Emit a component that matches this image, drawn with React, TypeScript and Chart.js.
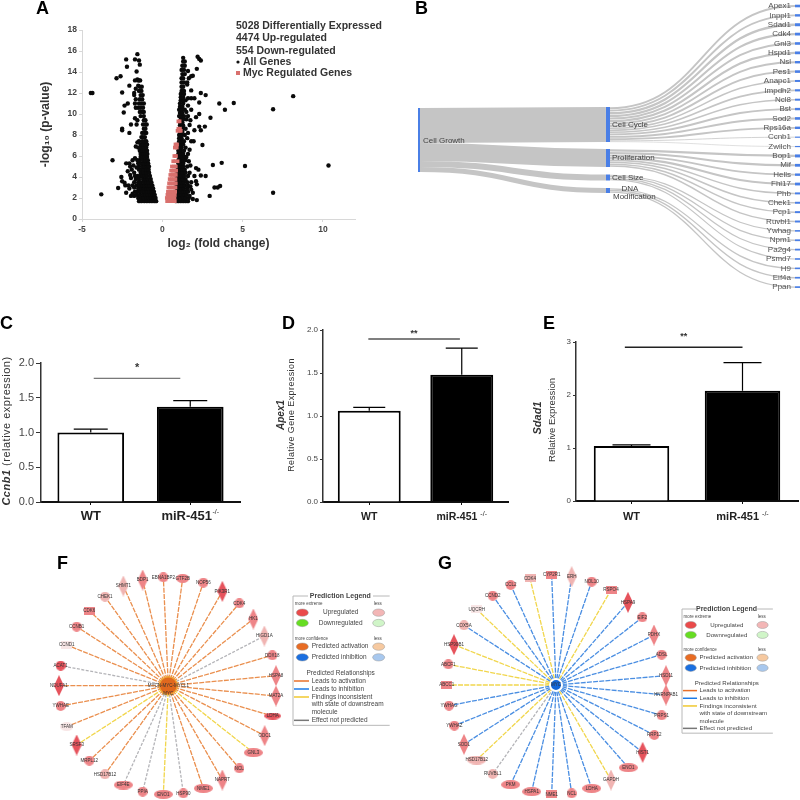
import React, { useEffect, useRef } from "react";
import { Chart, registerables } from "chart.js";

Chart.register(...registerables);

const SANS = '"Liberation Sans", Arial, sans-serif';

// ---------- Panel A data: [p-value row, fold changes read on that row] ----------
const downDense: [number, number[]][] = [
  [1.7, [-1.45, -1.3, -1.12, -0.96, -0.8, -0.65, -0.5, -0.38]],
  [2.0, [-1.5, -1.3, -1.15, -1.0, -0.85, -0.7, -0.55, -0.42]],
  [2.3, [-1.6, -1.4, -1.2, -1.05, -0.9, -0.75, -0.62, -0.47]],
  [2.6, [-1.55, -1.38, -1.25, -1.1, -0.95, -0.8, -0.66, -0.52]],
  [2.9, [-1.5, -1.3, -1.15, -1.0, -0.85, -0.7, -0.57]],
  [3.2, [-1.6, -1.4, -1.25, -1.1, -0.95, -0.8, -0.62]],
  [3.5, [-1.5, -1.35, -1.15, -1.0, -0.85, -0.68]],
  [3.8, [-1.45, -1.2, -1.05, -0.9, -0.72]],
  [4.1, [-1.55, -1.38, -1.25, -1.1, -0.95, -0.77]],
  [4.4, [-1.35, -1.15, -1.0, -0.82]],
  [4.7, [-1.45, -1.3, -1.15, -1.0, -0.85]],
  [5.0, [-1.45, -1.25, -1.1, -0.95, -0.83]],
  [5.3, [-1.5, -1.3, -1.15, -1.0, -0.88]],
  [5.6, [-1.4, -1.2, -1.05, -0.9]],
  [5.9, [-1.35, -1.25, -1.1, -0.95]],
  [6.2, [-1.35, -1.2, -1.05, -0.93]],
  [6.5, [-1.4, -1.25, -1.1, -0.95]],
  [6.8, [-1.5, -1.3, -1.15, -1.0]],
  [7.1, [-1.35, -1.2, -1.05, -0.95]],
  [7.4, [-1.45, -1.25, -1.1, -1.0]],
  [7.8, [-1.3, -1.2, -1.08]],
  [8.2, [-1.25, -1.1, -1.0]],
  [8.6, [-1.15, -1.05]],
  [9.0, [-1.2, -1.05, -0.97]],
  [9.4, [-1.15, -1.05]],
  [9.8, [-1.35, -1.15]],
  [10.2, [-1.4, -1.25, -1.15]],
  [10.6, [-1.5, -1.35, -1.2]],
  [11.0, [-1.45, -1.3, -1.15]],
  [11.4, [-1.4, -1.25]],
  [11.8, [-1.35, -1.22]],
  [12.2, [-1.45, -1.3]],
  [12.6, [-1.4, -1.28]],
  [13.2, [-1.5, -1.38]],
];
const downSparse: [number, number][] = [
  [-4.45, 12], [-4.35, 12], [-3.8, 2.35], [-3.1, 5.6], [-2.85, 13.4], [-2.6, 13.6], [-2.25, 15.2],
  [-2.2, 14.5], [-1.7, 15.2], [-1.55, 15.7], [-1.45, 15.1], [-1.4, 14.7], [-1.6, 14.05], [-2.5, 12.05],
  [-2.05, 12.7], [-1.75, 12], [-2.15, 11], [-2.35, 10.8], [-2.4, 10.15], [-1.95, 9], [-2.5, 8.6],
  [-2.5, 8.45], [-2.05, 8.2], [-1.55, 13.3], [-1.45, 13.2], [-1.7, 11], [-1.65, 10.6], [-2.25, 5.3],
  [-2.05, 5.3], [-1.85, 5.6], [-1.55, 5.6], [-2.15, 4.55], [-2.55, 4], [-2.5, 3.6], [-2.3, 3.2],
  [-2.75, 2.95], [-2.25, 2.5], [-1.95, 2.2], [-1.75, 2.2], [-1.85, 3.2], [-1.65, 3.8], [-1.75, 4.4],
  [-1.6, 4.9], [-1.95, 3.9], [-2.1, 3.2], [-1.55, 7.3], [-1.5, 12.7], [-2.0, 5.0], [-1.8, 5.1],
  [-1.7, 2.6], [-1.85, 2.4], [-2.05, 2.9], [-1.75, 3.0], [-1.9, 4.7], [-1.7, 4.1], [-1.75, 3.5],
  [-2.0, 4.2], [-2.35, 3.45], [-1.7, 5.8], [-1.65, 6.9], [-1.7, 9.6], [-1.6, 9.0], [-1.55, 9.4],
  [-1.75, 11.8], [-1.65, 11.4], [-1.65, 12.4], [-1.7, 13.2],
];
const upDense: [number, number[]][] = [
  [1.7, [0.85, 1.0, 1.15, 1.3, 1.45, 1.6]],
  [2.0, [0.85, 1.0, 1.15, 1.3, 1.45, 1.65]],
  [2.3, [0.9, 1.05, 1.2, 1.35, 1.5]],
  [2.6, [0.85, 1.0, 1.15, 1.3, 1.45, 1.6]],
  [2.9, [0.9, 1.05, 1.2, 1.35, 1.55]],
  [3.2, [0.9, 1.05, 1.2, 1.4, 1.6]],
  [3.5, [0.9, 1.05, 1.2, 1.35, 1.55]],
  [3.8, [0.95, 1.1, 1.25, 1.45]],
  [4.1, [0.9, 1.05, 1.2, 1.35, 1.6]],
  [4.4, [0.95, 1.1, 1.25, 1.45]],
  [4.7, [0.95, 1.1, 1.25, 1.4]],
  [5.0, [1.0, 1.15, 1.3, 1.55]],
  [5.3, [1.0, 1.15, 1.3]],
  [5.6, [1.0, 1.15, 1.3, 1.45]],
  [5.9, [1.05, 1.2, 1.4]],
  [6.2, [1.0, 1.15, 1.3]],
  [6.5, [1.0, 1.15, 1.35]],
  [6.8, [1.05, 1.2, 1.45]],
  [7.1, [1.0, 1.15, 1.3]],
  [7.4, [1.05, 1.2, 1.35]],
  [7.7, [1.05, 1.2]],
  [8.0, [1.05, 1.2, 1.4]],
  [8.3, [1.1, 1.25]],
  [8.6, [1.1, 1.25, 1.45]],
  [8.9, [1.1, 1.3]],
  [9.2, [1.1, 1.25]],
  [9.5, [1.15, 1.3, 1.5]],
  [9.8, [1.05, 1.2, 1.35]],
  [10.1, [1.1, 1.25]],
  [10.4, [1.05, 1.2, 1.4]],
  [10.7, [1.1, 1.25]],
  [11.0, [1.1, 1.3]],
  [11.3, [1.15, 1.3, 1.45]],
  [11.6, [1.15, 1.3]],
  [11.9, [1.15, 1.35]],
  [12.2, [1.2, 1.35]],
  [12.6, [1.2, 1.3]],
  [13.0, [1.2, 1.35]],
  [13.4, [1.2, 1.3]],
  [13.8, [1.25, 1.4]],
  [14.2, [1.2, 1.35]],
  [14.6, [1.25, 1.4]],
  [15.0, [1.3, 1.4]],
  [15.35, [1.3]],
];
const upSparse: [number, number][] = [
  [3.55, 11], [3.9, 10.4], [4.45, 11.05], [8.15, 11.7], [6.9, 10.45], [5.15, 5.05], [10.35, 5.1],
  [6.9, 2.5], [3.15, 5.15], [3.7, 5.35], [3.25, 3], [3.45, 3], [3.6, 3.15], [2.95, 2.2], [3.0, 9.65],
  [2.4, 12], [2.7, 11.8], [2.3, 11.1], [2.3, 10], [2.1, 9.7], [2.2, 15.45], [2.3, 15.25], [2.4, 15.1],
  [2.15, 14.3], [1.8, 13.6], [1.65, 13.4], [1.9, 13.65], [1.8, 12.25], [1.8, 11.5], [1.6, 11.5],
  [2.0, 11.5], [1.8, 10.4], [1.5, 10.2], [2.3, 8.8], [2.4, 8.45], [2.65, 8.8], [1.7, 8.95], [2.0, 8.45],
  [2.5, 7.05], [1.8, 7.4], [1.95, 7.4], [1.7, 6.6], [2.1, 4.85], [2.25, 4.7], [2.0, 4.1], [2.4, 4.15],
  [2.7, 4.1], [2.1, 3.6], [2.15, 3.3], [2.15, 1.8], [1.7, 2.2], [1.9, 2.5], [1.8, 2.8], [1.5, 5.9],
  [1.75, 9.4], [1.6, 6.2], [1.75, 5.1], [1.9, 1.9], [1.6, 8.2], [1.55, 7.7], [1.65, 5.5], [1.7, 4.4],
  [1.8, 3.5], [1.75, 3.1], [1.6, 9.8], [1.6, 10.8], [1.55, 12.8], [1.6, 14.1], [1.55, 13.0],
];
const mycRows: [number, number[]][] = [
  [1.7, [0.3, 0.42, 0.54, 0.66, 0.78]],
  [2.0, [0.28, 0.4, 0.52, 0.64, 0.76]],
  [2.3, [0.32, 0.44, 0.56, 0.68, 0.78]],
  [2.6, [0.35, 0.47, 0.59, 0.71, 0.8]],
  [3.0, [0.38, 0.5, 0.62, 0.74, 0.82]],
  [3.4, [0.42, 0.54, 0.66, 0.78, 0.84]],
  [3.8, [0.46, 0.58, 0.7, 0.82]],
  [4.2, [0.5, 0.62, 0.74, 0.84]],
  [4.6, [0.55, 0.67, 0.79, 0.86]],
  [5.0, [0.6, 0.72, 0.84]],
  [5.5, [0.68, 0.8, 0.95]],
  [6.0, [0.75, 0.85]],
  [6.8, [0.78, 0.9]],
  [7.1, [0.82, 0.92]],
  [8.4, [0.95, 1.08, 1.15]],
  [8.6, [1.0, 1.1]],
  [9.3, [1.0, 1.08]],
];
const expandRows = (rows: [number, number[]][]) => rows.flatMap(([y, xs]) => xs.map((x) => ({ x, y })));
const expandPairs = (pairs: [number, number][]) => pairs.map(([x, y]) => ({ x, y }));

// ---------- Panel B data ----------
const midNames = ["Cell Cycle", "Proliferation", "Cell Size", "DNA Modification"];
const midValues = [35, 18, 6, 5];
const midTops = [107, 149, 174.5, 188];
const growthTop = 108;
const geneNames = ["Apex1", "Inppl1", "Sdad1", "Cdk4", "Gnl3", "Hspd1", "Nsl", "Pes1", "Anapc1", "Impdh2", "Ncl8", "Bst", "Sod2", "Rps16a", "Ccnb1", "Zwilch", "Bop1", "Mif", "Hells", "Fhl17", "Phb", "Chek1", "Pcp1", "Ruvbl1", "Ywhag", "Npm1", "Pa2g4", "Psmd7", "H9", "Eif4a", "Ppan"];
const geneGroup = [0, 0, 0, 0, 0, 0, 0, 0, 0, 0, 0, 0, 0, 0, 0, 0, 1, 1, 1, 1, 1, 1, 1, 1, 2, 2, 2, 2, 3, 3, 3];
const geneValues = [2.6, 2.4, 3, 2.8, 2.6, 2.8, 2.4, 2.6, 2, 2.2, 2, 2.4, 2.6, 2.4, 1, 0.7, 3, 2.8, 2.4, 2.8, 2, 2, 2, 2, 1.6, 1.8, 1.8, 1.6, 1.6, 1.7, 1.7];

// ---------- Panels C, D, E data ----------
const barCategories = ["WT", "miR-451"];
const ccnb1Values = [1.0, 1.37];
const ccnb1Tops = [1.05, 1.46];
const apex1Values = [1.06, 1.48];
const apex1Tops = [1.1, 1.79];
const sdad1Values = [1.04, 2.08];
const sdad1Tops = [1.06, 2.61];

// ---------- Panels F, G data: layout positions, shape, shade and prediction kind ----------
type Net = [string, number, number, string, string, string];
const fNodes: Net[] = [
  ["BDP1", 338, 90, "d", "m", "a"], ["EBNA1BP2", 400, 82, "c", "m", "a"], ["GTF2B", 458, 85, "e", "m", "a"],
  ["NOP56", 520, 98, "c", "m", "a"], ["PIK3R1", 577, 124, "d", "h", "a"], ["CDK4", 628, 160, "c", "m", "a"],
  ["HK1", 670, 207, "d", "m", "a"], ["HIGD1A", 703, 258, "d", "p", "n"], ["DDX18", 727, 316, "c", "m", "a"],
  ["HSPA8", 738, 377, "d", "m", "a"], ["MAT2A", 738, 438, "d", "m", "a"], ["LDHA", 728, 498, "f", "h", "a"],
  ["ODC1", 704, 557, "d", "m", "a"], ["GNL3", 670, 608, "w", "m", "y"], ["NCL", 628, 655, "c", "m", "a"],
  ["NAPRT", 577, 690, "d", "m", "a"], ["NME1", 520, 715, "w", "m", "a"], ["HSP90", 460, 730, "c", "m", "n"],
  ["ENO1", 400, 733, "w", "m", "y"], ["PPIA", 338, 725, "c", "m", "n"], ["EIF4E", 280, 705, "w", "m", "n"],
  ["HSD17B12", 225, 673, "c", "p", "a"], ["MRPL12", 178, 632, "c", "m", "a"], ["SRSF3", 140, 585, "d", "h", "y"],
  ["TFAM", 110, 530, "e", "w", "a"], ["YWHAE", 92, 468, "c", "m", "a"], ["NDUFA1", 87, 407, "d", "h", "a"],
  ["ACAT1", 92, 347, "c", "h", "n"], ["CCND1", 110, 285, "r", "w", "a"], ["CCNB1", 140, 230, "c", "m", "a"],
  ["CDK6", 178, 182, "r", "m", "a"], ["CHEK1", 225, 140, "c", "p", "a"], ["SHMT1", 280, 108, "d", "p", "a"],
];
const gNodes: Net[] = [
  ["CYP2R1", 395, 75, "r", "m", "b"], ["ERH", 455, 80, "d", "p", "b"], ["NOL10", 515, 95, "c", "m", "b"],
  ["RSPO4", 573, 120, "r", "m", "y"], ["HSPA9", 624, 157, "d", "h", "b"], ["EIF2", 667, 202, "c", "m", "b"],
  ["PDHX", 702, 255, "d", "m", "b"], ["ADSL", 725, 314, "c", "m", "b"], ["HSD11", 738, 377, "d", "m", "b"],
  ["HNRNPAB1", 738, 435, "d", "m", "b"], ["PRPS1", 725, 496, "c", "m", "b"], ["RRP12", 703, 555, "c", "m", "b"],
  ["HIST1", 668, 607, "d", "h", "b"], ["ENO1", 625, 653, "w", "m", "b"], ["GAPDH", 573, 690, "d", "p", "y"],
  ["LDHA", 515, 715, "w", "m", "b"], ["NCL", 455, 730, "c", "m", "b"], ["NME1", 395, 733, "r", "m", "b"],
  ["HSPA1", 335, 725, "w", "m", "b"], ["PKM", 272, 704, "w", "m", "b"], ["RUVBL1", 218, 672, "c", "p", "n"],
  ["HSD17B12", 170, 630, "w", "p", "y"], ["SOD1", 132, 583, "d", "m", "b"], ["YWHAZ", 103, 527, "c", "m", "b"],
  ["YWHAG", 87, 467, "c", "m", "b"], ["ABCC1", 80, 405, "r", "m", "y"], ["ABCF1", 85, 343, "c", "m", "y"],
  ["HSP90B1", 102, 284, "d", "h", "y"], ["COX5A", 132, 226, "c", "p", "b"], ["UQCRH", 170, 178, "r", "w", "y"],
  ["CCND2", 218, 137, "c", "m", "b"], ["CCL2", 272, 105, "c", "m", "b"], ["CDK4", 330, 85, "r", "p", "y"],
];
const fHub = { x: 415, y: 407 };
const gHub = { x: 408, y: 405 };

const shades: Record<string, string> = { h: "#e6535c", m: "#ee8487", p: "#f0b4b2", w: "#f8e6e6" };
const linkColors: Record<string, string> = { a: "#ea8f4e", b: "#4a8ee2", y: "#f1d64c", n: "#b4b4b8" };

// ---------- helpers ----------
type Part = { t: string; font: string };
type Txt = { x: number; y: number; parts: Part[]; color?: string; rot?: boolean; align?: CanvasTextAlign; spacing?: string };
const txt = (x: number, y: number, t: string, font: string, o: Partial<Txt> = {}): Txt => ({ x, y, parts: [{ t, font }], ...o });

function drawTxt(ctx: CanvasRenderingContext2D, it: Txt, ox: number, oy: number) {
  ctx.save();
  ctx.translate(it.x - ox, it.y - oy);
  if (it.rot) ctx.rotate(-Math.PI / 2);
  ctx.fillStyle = it.color || "#333";
  ctx.textBaseline = "middle";
  ctx.textAlign = "left";
  (ctx as any).letterSpacing = it.spacing || "0px";
  let total = 0;
  for (const p of it.parts) { ctx.font = p.font; total += ctx.measureText(p.t).width; }
  const al = it.align || "center";
  let cx = al === "center" ? -total / 2 : al === "right" || al === "end" ? -total : 0;
  for (const p of it.parts) { ctx.font = p.font; ctx.fillText(p.t, cx, 0); cx += ctx.measureText(p.t).width; }
  ctx.restore();
}
const textPlugin = (items: Txt[], ox: number, oy: number) => ({
  id: "pageTexts",
  afterDraw(c: any) { items.forEach((i) => drawTxt(c.ctx, i, ox, oy)); },
});

function frame(w: number, h: number, a: { l: number; r: number; t: number; b: number }, pl = 0, pb = 0) {
  return {
    layout: { autoPadding: false, padding: { left: pl, top: a.t, right: w - a.r, bottom: pb } },
    yFit: (s: any) => { s.width = a.l - pl; },
    xFit: (s: any) => { s.height = h - a.b - pb; },
  };
}
const baseOpts = { responsive: false, animation: false as const, events: [] as string[] };
const noPlugins = { legend: { display: false }, tooltip: { enabled: false }, title: { display: false } };

// ---------- Panel A ----------
function volcanoConfig(ox: number, oy: number, w: number, h: number) {
  const f = frame(w, h, { l: 82, r: 355, t: 30, b: 219 }, 38, 19);
  const B = `bold 10.5px ${SANS}`;
  const items = [
    txt(236, 26, "5028 Differentially Expressed", B, { align: "left" }),
    txt(236, 38.5, "4474 Up-regulated", B, { align: "left" }),
    txt(236, 51, "554 Down-regulated", B, { align: "left" }),
    txt(243, 62, "All Genes", B, { align: "left" }),
    txt(243, 73, "Myc Regulated Genes", B, { align: "left" }),
  ];
  const keys = {
    id: "keys",
    afterDraw(c: any) {
      const g = c.ctx;
      g.fillStyle = "#111"; g.beginPath(); g.arc(238, 62, 1.6, 0, 7); g.fill();
      g.fillStyle = "#d9706d"; g.fillRect(236, 71, 4, 4);
    },
  };
  return {
    type: "scatter",
    data: {
      datasets: [
        { label: "Myc Regulated Genes", data: expandRows(mycRows), backgroundColor: "#d9706d", pointStyle: "rect", pointRadius: 2.6, borderWidth: 0 },
        { label: "All Genes", data: [...expandRows(downDense), ...expandPairs(downSparse), ...expandRows(upDense), ...expandPairs(upSparse)], backgroundColor: "#0a0a0a", pointRadius: 2.2, borderWidth: 0 },
      ],
    },
    options: {
      ...baseOpts,
      layout: f.layout,
      plugins: noPlugins,
      scales: {
        x: {
          type: "linear", min: -5, max: 12, afterFit: f.xFit,
          border: { color: "#d8d8d8" }, grid: { drawOnChartArea: false, tickLength: 3, color: "#d8d8d8" },
          ticks: { stepSize: 5, includeBounds: false, color: "#444", font: { family: SANS, size: 8.5, weight: "bold" }, maxRotation: 0, padding: 3 },
          title: { display: true, text: "log₂ (fold change)", color: "#333", font: { family: SANS, size: 12, weight: "bold" }, padding: 0 },
        },
        y: {
          min: 0, max: 18, afterFit: f.yFit,
          border: { color: "#d8d8d8" }, grid: { drawOnChartArea: false, tickLength: 3, color: "#d8d8d8" },
          ticks: { stepSize: 2, color: "#444", font: { family: SANS, size: 8.5, weight: "bold" }, padding: 2 },
          title: { display: true, text: "-log₁₀ (p-value)", color: "#333", font: { family: SANS, size: 12, weight: "bold" }, padding: 0 },
        },
      },
    },
    plugins: [textPlugin(items, ox, oy), keys],
  };
}

// ---------- Panel B ----------
function sankeyConfig(ox: number, oy: number) {
  const plugin = {
    id: "sankey",
    beforeDatasetsDraw(c: any) {
      const g = c.ctx as CanvasRenderingContext2D;
      const X = c.scales.x, Y = c.scales.y;
      const link = (x0: number, y0: number, x1: number, y1: number, w: number) => {
        const a = X.getPixelForValue(x0), b = X.getPixelForValue(x1), m = (a + b) / 2;
        g.beginPath();
        g.moveTo(a, Y.getPixelForValue(y0));
        g.bezierCurveTo(m, Y.getPixelForValue(y0), m, Y.getPixelForValue(y1), b, Y.getPixelForValue(y1));
        g.lineWidth = w;
        g.stroke();
      };
      g.save();
      g.strokeStyle = "#c5c5c5";
      let top = growthTop;
      midValues.forEach((v, i) => {
        link(20, top + v / 2, 206, midTops[i] + v / 2, v);
        top += v;
      });
      midValues.forEach((v, i) => {
        const idx = geneValues.map((_, k) => k).filter((k) => geneGroup[k] === i);
        const sum = idx.reduce((s, k) => s + geneValues[k], 0);
        let off = midTops[i];
        idx.forEach((k) => {
          const w = (geneValues[k] * v) / sum;
          link(210, off + w / 2, 395, 6 + k * 9.37, w * 0.8);
          off += w;
        });
      });
      g.fillStyle = "#4a7fe6";
      const rect = (x0: number, y0: number, x1: number, y1: number) => {
        const a = X.getPixelForValue(x0), t = Y.getPixelForValue(y0);
        g.fillRect(a, t, X.getPixelForValue(x1) - a, Y.getPixelForValue(y1) - t);
      };
      rect(18, growthTop, 20, growthTop + midValues.reduce((s, v) => s + v, 0));
      midValues.forEach((v, i) => rect(206, midTops[i], 210, midTops[i] + v));
      geneValues.forEach((v, k) => rect(395, 6 + k * 9.37 - Math.max(v, 1.2) / 2, 400, 6 + k * 9.37 + Math.max(v, 1.2) / 2));
      g.restore();
    },
    afterDraw(c: any) {
      const g = c.ctx;
      const F = `8px ${SANS}`;
      geneNames.forEach((n, k) => drawTxt(g, txt(791, 6 + k * 9.37, n, F, { align: "right", color: "#555" }), ox, oy));
      drawTxt(g, txt(423, 141, "Cell Growth", F, { align: "left", color: "#444" }), ox, oy);
      drawTxt(g, txt(612, 125, midNames[0], F, { align: "left", color: "#444" }), ox, oy);
      drawTxt(g, txt(612, 158, midNames[1], F, { align: "left", color: "#444" }), ox, oy);
      drawTxt(g, txt(612, 178, midNames[2], F, { align: "left", color: "#444" }), ox, oy);
      drawTxt(g, txt(630, 189, "DNA", F, { color: "#444" }), ox, oy);
      drawTxt(g, txt(613, 197, "Modification", F, { align: "left", color: "#444" }), ox, oy);
    },
  };
  return {
    type: "scatter",
    data: { datasets: [{ data: [], pointRadius: 0 }] },
    options: {
      ...baseOpts,
      layout: { autoPadding: false, padding: 0 },
      plugins: noPlugins,
      scales: {
        x: { type: "linear", min: 0, max: 400, display: false },
        y: { type: "linear", min: 0, max: 300, reverse: true, display: false },
      },
    },
    plugins: [plugin],
  };
}

// ---------- Panels C, D, E ----------
type BarSpec = {
  ox: number; oy: number; w: number; h: number;
  area: { l: number; r: number; t: number; b: number };
  values: number[]; tops: number[]; max: number; step: number; decimals: number;
  tickFont: number; tickLen: number; capHalf: number; errWidth: number;
  sig: { from: number; to: number; value: number; width: number; color: string; label: string; labelY: number; labelFont: number };
  catY: number; catFont: number; supFont: number; supGap: number;
  texts: Txt[]; barPct: number;
};
function barConfig(s: BarSpec) {
  const f = frame(s.w, s.h, s.area);
  const marks = {
    id: "marks",
    afterDraw(c: any) {
      const g = c.ctx as CanvasRenderingContext2D;
      const X = c.scales.x, Y = c.scales.y;
      g.save();
      g.strokeStyle = "#000";
      g.lineWidth = s.errWidth;
      s.tops.forEach((t, i) => {
        const x = X.getPixelForValue(i), a = Y.getPixelForValue(s.values[i]), b = Y.getPixelForValue(t);
        g.beginPath();
        g.moveTo(x, a); g.lineTo(x, b);
        g.moveTo(x - s.capHalf, b); g.lineTo(x + s.capHalf, b);
        g.stroke();
      });
      g.strokeStyle = s.sig.color;
      g.lineWidth = s.sig.width;
      const yy = Y.getPixelForValue(s.sig.value);
      const a = X.getPixelForValue(s.sig.from), b = X.getPixelForValue(s.sig.to);
      g.beginPath(); g.moveTo(a, yy); g.lineTo(b, yy); g.stroke();
      g.restore();
      drawTxt(g, txt(s.ox + (a + b) / 2, s.sig.labelY, s.sig.label, `bold ${s.sig.labelFont}px ${SANS}`, { color: "#333" }), s.ox, s.oy);
      const B = `bold ${s.catFont}px ${SANS}`, S = `${s.supFont}px ${SANS}`;
      drawTxt(g, txt(s.ox + X.getPixelForValue(0), s.catY, barCategories[0], B, { color: "#222" }), s.ox, s.oy);
      g.font = B;
      const w1 = g.measureText(barCategories[1]).width;
      g.font = S;
      const w2 = g.measureText("-/-").width;
      const left = X.getPixelForValue(1) - (w1 + s.supGap + w2) / 2;
      drawTxt(g, txt(s.ox + left, s.catY, barCategories[1], B, { align: "left", color: "#222" }), s.ox, s.oy);
      drawTxt(g, txt(s.ox + left + w1 + s.supGap, s.catY - s.catFont * 0.3, "-/-", S, { align: "left", color: "#222" }), s.ox, s.oy);
    },
  };
  return {
    type: "bar",
    data: {
      labels: barCategories,
      datasets: [{ data: s.values, backgroundColor: ["#ffffff", "#000000"], borderColor: "#000", borderWidth: 2, barPercentage: s.barPct, categoryPercentage: 1 }],
    },
    options: {
      ...baseOpts,
      layout: f.layout,
      plugins: noPlugins,
      scales: {
        x: {
          afterFit: f.xFit,
          border: { color: "#111", width: 2 },
          grid: { offset: false, drawOnChartArea: false, tickLength: 3, color: "#111", lineWidth: 1 },
          ticks: { display: false },
        },
        y: {
          min: 0, max: s.max, afterFit: f.yFit,
          border: { color: "#333", width: 1.5 },
          grid: { drawOnChartArea: false, tickLength: s.tickLen, color: "#333", lineWidth: 1 },
          ticks: { stepSize: s.step, color: "#444", font: { family: SANS, size: s.tickFont }, padding: 2, callback: (v: number) => Number(v).toFixed(s.decimals) },
        },
      },
    },
    plugins: [marks, textPlugin(s.texts, s.ox, s.oy)],
  };
}

// ---------- Panels F, G ----------
function shapeCanvas(kind: string, fill: string) {
  const dims: Record<string, [number, number]> = { c: [10, 10], e: [13, 9], w: [19, 9], f: [17, 7], d: [10, 21], r: [11, 8] };
  const [w, h] = dims[kind];
  const cv = document.createElement("canvas");
  cv.width = w; cv.height = h;
  const g = cv.getContext("2d")!;
  g.fillStyle = fill;
  g.beginPath();
  if (kind === "d") {
    g.moveTo(w / 2, 0); g.lineTo(w, h / 2); g.lineTo(w / 2, h); g.lineTo(0, h / 2); g.closePath();
  } else if (kind === "r") {
    g.rect(0, 0, w, h);
  } else {
    g.ellipse(w / 2, h / 2, w / 2, h / 2, 0, 0, 7);
  }
  g.fill();
  return cv;
}

function drawLegend(g: CanvasRenderingContext2D, x: number, y: number, sx: number, sy: number) {
  const F = `${(6.5 * sx).toFixed(2)}px ${SANS}`, S = `4.5px ${SANS}`;
  const px = (v: number) => x + (v * sx) / 3;
  const py = (v: number) => y + (v * sy) / 3;
  const W = 290, H = 388;
  g.save();
  g.strokeStyle = "#b8b8b8";
  g.lineWidth = 1;
  g.beginPath();
  g.moveTo(px(45), py(0)); g.lineTo(px(0), py(0)); g.lineTo(px(0), py(H)); g.lineTo(px(W), py(H));
  g.moveTo(px(240), py(0)); g.lineTo(px(W), py(0));
  g.stroke();
  const oval = (vx: number, vy: number, c: string) => {
    g.fillStyle = c; g.strokeStyle = "#999"; g.lineWidth = 0.5;
    g.beginPath(); g.ellipse(px(vx), py(vy), (18 * sx) / 3, (11 * sy) / 3, 0, 0, 7); g.fill(); g.stroke();
  };
  oval(28, 50, "#ea4a4a"); oval(257, 50, "#f3b6b6");
  oval(28, 81, "#66dd22"); oval(257, 81, "#d0f5c8");
  oval(28, 152, "#e86c24"); oval(257, 152, "#f6c9a0");
  oval(28, 184, "#1a6fe0"); oval(257, 184, "#a8c8ee");
  const bar = (vy: number, c: string) => {
    g.strokeStyle = c; g.lineWidth = 1.5;
    g.beginPath(); g.moveTo(px(3), py(vy)); g.lineTo(px(48), py(vy)); g.stroke();
  };
  bar(255, "#e8702a"); bar(279, "#1a7ae8"); bar(303, "#f0c830"); bar(373, "#777");
  g.restore();
  const t = (vx: number, vy: number, s: string, font = F, align: CanvasTextAlign = "left") =>
    drawTxt(g, txt(px(vx), py(vy), s, font, { align, color: "#444" }), 0, 0);
  t(142, 0, "Prediction Legend", `bold 7px ${SANS}`, "center");
  t(5, 23, "more extreme", S); t(242, 23, "less", S);
  t(143, 50, "Upregulated", F, "center"); t(143, 82, "Downregulated", F, "center");
  t(5, 127, "more confidence", S); t(242, 127, "less", S);
  t(56, 152, "Predicted activation"); t(56, 184, "Predicted inhibition");
  t(143, 231, "Predicted Relationships", F, "center");
  t(56, 255, "Leads to activation"); t(56, 279, "Leads to inhibition");
  t(56, 303, "Findings inconsistent"); t(56, 326, "with state of downstream"); t(56, 350, "molecule");
  t(56, 373, "Effect not predicted");
}

function networkConfig(nodes: Net[], hub: { x: number; y: number }, w: number, h: number, hubKind: string, hubLabels: string[], legendAt: [number, number, number, number]) {
  const spokes = nodes.map((n) => ({
    type: "line",
    data: [{ x: hub.x, y: hub.y }, { x: n[1], y: n[2] }],
    borderColor: linkColors[n[5]],
    borderWidth: 1.3,
    borderDash: n[5] === "n" ? [3, 1.5] : [5, 1.2],
    pointRadius: 0,
    showLine: true,
    order: 5,
  }));
  const isF = hubKind === "a";
  const plugin = {
    id: "netLabels",
    afterDatasetsDraw(c: any) {
      const g = c.ctx;
      const X = c.scales.x, Y = c.scales.y;
      const f = `4.5px ${SANS}`;
      g.save();
      g.font = f; g.fillStyle = "#333"; g.textAlign = "center"; g.textBaseline = "middle";
      nodes.forEach((n) => {
        g.fillText(n[0], X.getPixelForValue(n[1]), Y.getPixelForValue(n[2]));
      });
      g.fillText(hubLabels[0], X.getPixelForValue(hub.x), Y.getPixelForValue(hub.y));
      if (hubLabels[1]) g.fillText(hubLabels[1], X.getPixelForValue(hub.x), Y.getPixelForValue(hub.y + 23));
      g.restore();
      drawLegend(g, legendAt[0], legendAt[1], legendAt[2], legendAt[3]);
    },
  };
  return {
    type: "scatter",
    data: {
      datasets: [
        {
          data: [hub],
          backgroundColor: isF ? "#e0681e" : "#1266d8",
          borderColor: isF ? "#f0a63a" : "#ffffff",
          borderWidth: isF ? 1.5 : 2,
          pointRadius: isF ? 9 : 6,
          order: 1,
        },
        {
          data: nodes.map((n) => ({ x: n[1], y: n[2] })),
          pointStyle: nodes.map((n) => shapeCanvas(n[3], shades[n[4]])),
          pointRadius: 5,
          order: 2,
        },
        ...spokes,
      ],
    },
    options: {
      ...baseOpts,
      layout: { autoPadding: false, padding: 0 },
      plugins: noPlugins,
      scales: {
        x: { type: "linear", min: 0, max: w * 3, display: false },
        y: { type: "linear", min: 0, max: h * 3, reverse: true, display: false },
      },
    },
    plugins: [plugin],
  };
}

// ---------- page ----------
type Box = { key: string; x: number; y: number; w: number; h: number; make: () => any };
const italicBold = (n: number) => `italic bold ${n}px ${SANS}`;

const boxes: Box[] = [
  { key: "A", x: 0, y: 0, w: 400, h: 270, make: () => volcanoConfig(0, 0, 400, 270) },
  { key: "B", x: 400, y: 0, w: 400, h: 300, make: () => sankeyConfig(400, 0) },
  {
    key: "C", x: 0, y: 320, w: 250, h: 215,
    make: () => barConfig({
      ox: 0, oy: 320, w: 250, h: 215, area: { l: 41, r: 240, t: 43, b: 182 },
      values: ccnb1Values, tops: ccnb1Tops, max: 2, step: 0.5, decimals: 1, tickFont: 11, tickLen: 5, capHalf: 17, errWidth: 1.2,
      sig: { from: 0.03, to: 0.9, value: 1.78, width: 1, color: "#555", label: "*", labelY: 368, labelFont: 11 },
      catY: 516, catFont: 13, supFont: 7, supGap: 0.5, barPct: 0.67,
      texts: [{ x: 7, y: 431, rot: true, color: "#333", spacing: "0.5px", parts: [{ t: "Ccnb1", font: italicBold(11) }, { t: " (relative expression)", font: `11px ${SANS}` }] }],
    }),
  },
  {
    key: "D", x: 275, y: 320, w: 240, h: 215,
    make: () => barConfig({
      ox: 275, oy: 320, w: 240, h: 215, area: { l: 48, r: 233, t: 10, b: 182 },
      values: apex1Values, tops: apex1Tops, max: 2, step: 0.5, decimals: 1, tickFont: 8, tickLen: 3, capHalf: 16, errWidth: 1.2,
      sig: { from: -0.01, to: 0.98, value: 1.895, width: 1.6, color: "#555", label: "**", labelY: 334, labelFont: 9 },
      catY: 517, catFont: 10.5, supFont: 7, supGap: 3, barPct: 0.68,
      texts: [
        txt(281, 415, "Apex1", italicBold(10), { rot: true }),
        txt(292, 415, "Relative Gene Expression", `9px ${SANS}`, { rot: true, spacing: "0.4px" }),
      ],
    }),
  },
  {
    key: "E", x: 530, y: 330, w: 270, h: 205,
    make: () => barConfig({
      ox: 530, oy: 330, w: 270, h: 205, area: { l: 46, r: 268, t: 12, b: 171 },
      values: sdad1Values, tops: sdad1Tops, max: 3, step: 1, decimals: 0, tickFont: 8, tickLen: 3, capHalf: 19, errWidth: 1.2,
      sig: { from: -0.06, to: 1.0, value: 2.9, width: 1.4, color: "#222", label: "**", labelY: 337, labelFont: 9 },
      catY: 517, catFont: 11, supFont: 7, supGap: 3, barPct: 0.68,
      texts: [
        txt(538, 418, "Sdad1", italicBold(11), { rot: true }),
        txt(552, 420, "Relative Expression", `9.5px ${SANS}`, { rot: true }),
      ],
    }),
  },
  {
    key: "F", x: 30, y: 550, w: 370, h: 250,
    make: () => networkConfig(fNodes, fHub, 370, 250, "a", ["MYCN-MYC-MYCL1", "MYC"], [263, 46, 1, 1]),
  },
  {
    key: "G", x: 420, y: 550, w: 380, h: 250,
    make: () => networkConfig(gNodes, gHub, 380, 250, "b", ["MYC", ""], [262, 59, 0.94, 0.96]),
  },
];

const panelLetters: [string, number, number][] = [
  ["A", 36, 8], ["B", 415, 8], ["C", 0, 323], ["D", 282, 323], ["E", 543, 323], ["F", 57, 563], ["G", 438, 563],
];

function PanelCanvas({ box }: { box: Box }) {
  const ref = useRef<HTMLCanvasElement>(null);
  useEffect(() => {
    const chart = new Chart(ref.current as HTMLCanvasElement, box.make());
    return () => chart.destroy();
  }, []);
  return (
    <canvas
      ref={ref}
      width={box.w}
      height={box.h}
      style={{ position: "absolute", left: box.x, top: box.y, width: box.w, height: box.h, display: "block", filter: "blur(0.45px)" }}
    />
  );
}

export default function App() {
  return (
    <div style={{ position: "absolute", left: 0, top: 0, width: 800, height: 800, background: "#fff", overflow: "hidden" }}>
      {boxes.map((b) => <PanelCanvas key={b.key} box={b} />)}
      {panelLetters.map(([t, x, y]) => (
        <div key={t} style={{ position: "absolute", left: x, top: y - 10, height: 20, lineHeight: "20px", font: `bold 18px ${SANS}`, color: "#000" }}>{t}</div>
      ))}
    </div>
  );
}
